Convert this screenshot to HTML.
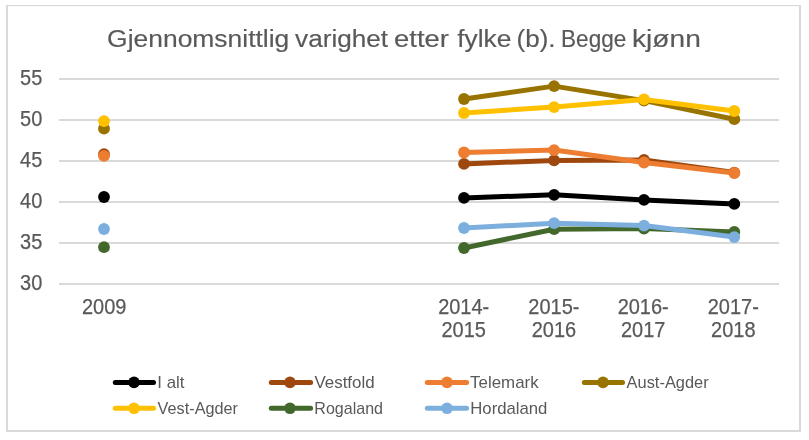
<!DOCTYPE html>
<html lang="no"><head><meta charset="utf-8"><title>Gjennomsnittlig varighet etter fylke (b). Begge kjønn</title>
<style>
html,body{margin:0;padding:0;background:#fff;}
body{width:809px;height:440px;overflow:hidden;}
svg{display:block;}
text{font-family:"Liberation Sans",sans-serif;fill:#595959;}
.ax{font-size:22.2px;stroke:#595959;stroke-width:0.25px;}
.ti{font-size:23.3px;stroke:#595959;stroke-width:0.15px;}
.lg{font-size:15.7px;}
</style></head><body>
<svg width="809" height="440" viewBox="0 0 809 440">
<rect x="0" y="0" width="809" height="440" fill="#fff"/>
<g fill="#D9D9D9"><rect x="6" y="5" width="2" height="427"/><rect x="799" y="5" width="2" height="427"/><rect x="6" y="5" width="795" height="1.1"/><rect x="6" y="430" width="795" height="2"/></g>

<g stroke="#D9D9D9" stroke-width="2">
<line x1="59" y1="79.0" x2="779" y2="79.0"/>
<line x1="59" y1="120.0" x2="779" y2="120.0"/>
<line x1="59" y1="161.0" x2="779" y2="161.0"/>
<line x1="59" y1="202.0" x2="779" y2="202.0"/>
<line x1="59" y1="243.0" x2="779" y2="243.0"/>
<line x1="59" y1="284.0" x2="779" y2="284.0"/>
</g>
<g class="ax" text-anchor="end">
<text x="42.3" y="84.5" textLength="22.22" lengthAdjust="spacingAndGlyphs">55</text>
<text x="42.3" y="125.5" textLength="22.22" lengthAdjust="spacingAndGlyphs">50</text>
<text x="42.3" y="166.5" textLength="22.22" lengthAdjust="spacingAndGlyphs">45</text>
<text x="42.3" y="207.5" textLength="22.22" lengthAdjust="spacingAndGlyphs">40</text>
<text x="42.3" y="248.5" textLength="22.22" lengthAdjust="spacingAndGlyphs">35</text>
<text x="42.3" y="289.5" textLength="22.22" lengthAdjust="spacingAndGlyphs">30</text>
</g>
<g class="ax" text-anchor="middle">
<text x="104.2" y="314" textLength="44.44" lengthAdjust="spacingAndGlyphs">2009</text>
<text x="463.7" y="314" textLength="51.09" lengthAdjust="spacingAndGlyphs">2014-</text><text x="463.7" y="336.6" textLength="44.44" lengthAdjust="spacingAndGlyphs">2015</text>
<text x="553.9" y="314" textLength="51.09" lengthAdjust="spacingAndGlyphs">2015-</text><text x="553.9" y="336.6" textLength="44.44" lengthAdjust="spacingAndGlyphs">2016</text>
<text x="643.2" y="314" textLength="51.09" lengthAdjust="spacingAndGlyphs">2016-</text><text x="643.2" y="336.6" textLength="44.44" lengthAdjust="spacingAndGlyphs">2017</text>
<text x="733.3" y="314" textLength="51.09" lengthAdjust="spacingAndGlyphs">2017-</text><text x="733.3" y="336.6" textLength="44.44" lengthAdjust="spacingAndGlyphs">2018</text>
</g>
<g class="ti">
<text x="107.12" y="46.7" textLength="182.2" lengthAdjust="spacingAndGlyphs">Gjennomsnittlig</text>
<text x="295.14" y="46.7" textLength="93.0" lengthAdjust="spacingAndGlyphs">varighet</text>
<text x="394.11" y="46.7" textLength="54.9" lengthAdjust="spacingAndGlyphs">etter</text>
<text x="457.22" y="46.7" textLength="54.1" lengthAdjust="spacingAndGlyphs">fylke</text>
<text x="516.64" y="46.7" textLength="38.9" lengthAdjust="spacingAndGlyphs">(b).</text>
<text x="561.05" y="46.7" textLength="65.3" lengthAdjust="spacingAndGlyphs">Begge</text>
<text x="632.05" y="46.7" textLength="68.8" lengthAdjust="spacingAndGlyphs">kjønn</text>
</g>
<g fill="#000000" stroke="none"><polyline points="464.0,197.9 554.1,194.8 644.0,199.9 734.3,203.9" fill="none" stroke="#000000" stroke-width="5" stroke-linecap="round" stroke-linejoin="round"/>
<circle cx="104.0" cy="197.0" r="5.9"/>
<circle cx="464.0" cy="197.9" r="5.9"/>
<circle cx="554.1" cy="194.8" r="5.9"/>
<circle cx="644.0" cy="199.9" r="5.9"/>
<circle cx="734.3" cy="203.9" r="5.9"/>
</g>
<g fill="#9E480E" stroke="none"><polyline points="464.0,163.9 554.1,160.4 644.0,160.0 734.3,172.6" fill="none" stroke="#9E480E" stroke-width="5" stroke-linecap="round" stroke-linejoin="round"/>
<circle cx="104.0" cy="154.1" r="5.9"/>
<circle cx="464.0" cy="163.9" r="5.9"/>
<circle cx="554.1" cy="160.4" r="5.9"/>
<circle cx="644.0" cy="160.0" r="5.9"/>
<circle cx="734.3" cy="172.6" r="5.9"/>
</g>
<g fill="#ED7D31" stroke="none"><polyline points="464.0,152.5 554.1,150.1 644.0,162.5 734.3,173.0" fill="none" stroke="#ED7D31" stroke-width="5" stroke-linecap="round" stroke-linejoin="round"/>
<circle cx="104.0" cy="155.95" r="5.9"/>
<circle cx="464.0" cy="152.5" r="5.9"/>
<circle cx="554.1" cy="150.1" r="5.9"/>
<circle cx="644.0" cy="162.5" r="5.9"/>
<circle cx="734.3" cy="173.0" r="5.9"/>
</g>
<g fill="#997300" stroke="none"><polyline points="464.0,99.0 554.1,86.1 644.0,100.6 734.3,119.2" fill="none" stroke="#997300" stroke-width="5" stroke-linecap="round" stroke-linejoin="round"/>
<circle cx="104.0" cy="128.65" r="5.9"/>
<circle cx="464.0" cy="99.0" r="5.9"/>
<circle cx="554.1" cy="86.1" r="5.9"/>
<circle cx="644.0" cy="100.6" r="5.9"/>
<circle cx="734.3" cy="119.2" r="5.9"/>
</g>
<g fill="#FFC000" stroke="none"><polyline points="464.0,113.0 554.1,107.1 644.0,99.4 734.3,111.0" fill="none" stroke="#FFC000" stroke-width="5" stroke-linecap="round" stroke-linejoin="round"/>
<circle cx="104.0" cy="121.05" r="5.9"/>
<circle cx="464.0" cy="113.0" r="5.9"/>
<circle cx="554.1" cy="107.1" r="5.9"/>
<circle cx="644.0" cy="99.4" r="5.9"/>
<circle cx="734.3" cy="111.0" r="5.9"/>
</g>
<g fill="#43682B" stroke="none"><polyline points="464.0,248.0 554.1,229.2 644.0,228.6 734.3,231.9" fill="none" stroke="#43682B" stroke-width="5" stroke-linecap="round" stroke-linejoin="round"/>
<circle cx="104.0" cy="247.2" r="5.9"/>
<circle cx="464.0" cy="248.0" r="5.9"/>
<circle cx="554.1" cy="229.2" r="5.9"/>
<circle cx="644.0" cy="228.6" r="5.9"/>
<circle cx="734.3" cy="231.9" r="5.9"/>
</g>
<g fill="#7CAFDD" stroke="none"><polyline points="464.0,228.0 554.1,223.2 644.0,225.6 734.3,237.1" fill="none" stroke="#7CAFDD" stroke-width="5" stroke-linecap="round" stroke-linejoin="round"/>
<circle cx="104.0" cy="229.0" r="5.9"/>
<circle cx="464.0" cy="228.0" r="5.9"/>
<circle cx="554.1" cy="223.2" r="5.9"/>
<circle cx="644.0" cy="225.6" r="5.9"/>
<circle cx="734.3" cy="237.1" r="5.9"/>
</g>
<line x1="115.3" y1="382.4" x2="153.5" y2="382.4" stroke="#000000" stroke-width="5" stroke-linecap="round"/><circle cx="134.0" cy="382.4" r="5.8" fill="#000000"/>
<text class="lg" x="157.38" y="387.6" textLength="27.1" lengthAdjust="spacingAndGlyphs">I alt</text>
<line x1="271.3" y1="382.4" x2="310.6" y2="382.4" stroke="#9E480E" stroke-width="5" stroke-linecap="round"/><circle cx="290.0" cy="382.4" r="5.8" fill="#9E480E"/>
<text class="lg" x="314.45" y="387.6" textLength="60.2" lengthAdjust="spacingAndGlyphs">Vestfold</text>
<line x1="427.3" y1="382.4" x2="466.6" y2="382.4" stroke="#ED7D31" stroke-width="5" stroke-linecap="round"/><circle cx="447.0" cy="382.4" r="5.8" fill="#ED7D31"/>
<text class="lg" x="470.1" y="387.6" textLength="68.5" lengthAdjust="spacingAndGlyphs">Telemark</text>
<line x1="584.3" y1="382.4" x2="622.5" y2="382.4" stroke="#997300" stroke-width="5" stroke-linecap="round"/><circle cx="603.0" cy="382.4" r="5.8" fill="#997300"/>
<text class="lg" x="626.63" y="387.6" textLength="82.0" lengthAdjust="spacingAndGlyphs">Aust-Agder</text>
<line x1="115.3" y1="408.3" x2="153.5" y2="408.3" stroke="#FFC000" stroke-width="5" stroke-linecap="round"/><circle cx="134.0" cy="408.3" r="5.8" fill="#FFC000"/>
<text class="lg" x="157.61" y="413.9" textLength="80.4" lengthAdjust="spacingAndGlyphs">Vest-Agder</text>
<line x1="271.3" y1="408.3" x2="310.6" y2="408.3" stroke="#43682B" stroke-width="5" stroke-linecap="round"/><circle cx="290.0" cy="408.3" r="5.8" fill="#43682B"/>
<text class="lg" x="314.36" y="413.9" textLength="68.6" lengthAdjust="spacingAndGlyphs">Rogaland</text>
<line x1="427.3" y1="408.3" x2="466.6" y2="408.3" stroke="#7CAFDD" stroke-width="5" stroke-linecap="round"/><circle cx="447.0" cy="408.3" r="5.8" fill="#7CAFDD"/>
<text class="lg" x="470.3" y="413.9" textLength="77.1" lengthAdjust="spacingAndGlyphs">Hordaland</text>
</svg></body></html>
